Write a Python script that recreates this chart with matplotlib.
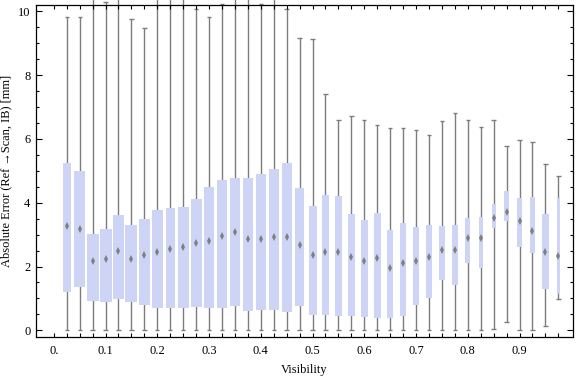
import numpy as np
import matplotlib.pyplot as plt

# visibility bins (box centres)
visibility = np.arange(1, 40) * 0.025

# box-whisker statistics [mm]
lows = [0, 0, 0, 0, 0, 0, 0, 0, 0, 0, 0, 0, 0, 0, 0, 0, 0, 0, 0, 0,
        0, 0, 0, 0, 0, 0, 0, 0, 0, 0, 0, 0, 0, 0.04, 0.27, 0, 0, 0.13, 0.97]
q1 = [1.21, 1.36, 0.92, 0.89, 0.99, 0.89, 0.80, 0.71, 0.71, 0.71,
      0.74, 0.71, 0.71, 0.76, 0.62, 0.65, 0.65, 0.58, 0.76, 0.49,
      0.49, 0.46, 0.46, 0.43, 0.38, 0.40, 0.46, 0.80, 1.02, 1.59,
      1.43, 2.12, 1.94, 3.22, 3.42, 2.62, 2.41, 1.31, 1.15]
medians = [3.28, 3.17, 2.18, 2.23, 2.49, 2.25, 2.35, 2.44, 2.54, 2.60,
           2.75, 2.81, 2.97, 3.07, 2.86, 2.86, 2.92, 2.92, 2.67, 2.36,
           2.46, 2.44, 2.30, 2.18, 2.28, 1.96, 2.11, 2.18, 2.31, 2.51,
           2.53, 2.90, 2.90, 3.53, 3.71, 3.42, 3.11, 2.44, 2.32]
q3 = [5.25, 4.99, 3.02, 3.18, 3.62, 3.30, 3.49, 3.77, 3.83, 3.87,
      4.12, 4.49, 4.71, 4.77, 4.77, 4.90, 5.06, 5.25, 4.46, 3.90,
      4.24, 4.21, 3.65, 3.46, 3.68, 3.14, 3.36, 3.24, 3.30, 3.27,
      3.30, 3.52, 3.54, 3.96, 4.37, 4.15, 4.18, 3.65, 4.15]
highs = [9.81, 9.81, 11, 10.31, 11, 9.75, 9.47, 11, 11, 11,
         10.09, 9.81, 10.22, 11, 11, 10.22, 11, 10.09, 9.18, 9.12,
         7.40, 6.58, 6.71, 6.58, 6.43, 6.33, 6.34, 6.27, 6.11, 6.55,
         6.80, 6.61, 6.36, 6.61, 5.77, 5.96, 5.89, 5.20, 4.83]

# box widths vary in the original (pixels at this size)
box_width_px = [7.3, 10, 11, 11, 10.7, 11, 10.7, 9.7, 8.3, 9.7,
                10, 8.7, 9.7, 9, 9, 9, 9, 9, 7.3, 7,
                6, 6, 6.3, 6, 6, 4.7, 4.3, 5, 5, 5,
                5, 4.3, 3.3, 3.3, 3.3, 3.3, 4, 5.7, 2.7]

x_labels = ['0.', '0.1', '0.2', '0.3', '0.4', '0.5', '0.6', '0.7', '0.8', '0.9']

plt.rcParams['font.family'] = ['Liberation Serif', 'DejaVu Serif']
plt.rcParams['font.size'] = 8.9

px_per_unit = 517.5
widths = np.array(box_width_px) / px_per_unit + 1.0 / px_per_unit

fig = plt.figure(figsize=(5.76, 3.77), dpi=100)
ax = fig.add_axes([36 / 576, 40 / 377, 537 / 576, 332.3 / 377])

box_color = '#cdd4f6'
gray = '#7d7d7d'
cap = 0.0042

wl = ax.vlines(visibility, lows, highs, color=gray, lw=1.0, zorder=1)
wl.set_clip_on(False)
c1 = ax.hlines(highs, visibility - cap, visibility + cap, color=gray, lw=1.0, zorder=1)
c1.set_clip_on(False)
ax.hlines(lows, visibility - cap, visibility + cap, color=gray, lw=1.0, zorder=1)

ax.bar(visibility, np.array(q3) - np.array(q1), bottom=q1, width=widths,
       color=box_color, edgecolor='none', zorder=2)
ax.plot(visibility, medians, linestyle='none', marker='d', markersize=4,
        color='#7f7f7f', markeredgewidth=0, zorder=3)

ax.set_xlim(-0.0344, 1.0033)
ax.set_ylim(-0.21, 10.21)

tick_pos = np.arange(0, 40) * 0.025
ax.set_xticks(tick_pos)
ax.set_xticklabels([x_labels[i // 4] if i % 4 == 0 else '' for i in range(40)])
ax.set_yticks([0, 2, 4, 6, 8, 10])
ax.set_yticks(np.arange(0, 10.01, 0.5), minor=True)
ax.tick_params(axis='x', direction='in', length=3, width=0.8, top=True, pad=6)
ax.tick_params(axis='y', which='major', direction='in', length=4.2, width=0.8, right=True, pad=4)
ax.tick_params(axis='y', which='minor', direction='in', length=2.4, width=0.8, right=True)
for s in ax.spines.values():
    s.set_linewidth(0.9)

ax.set_xlabel('Visibility', labelpad=5)
ax.set_ylabel('Absolute Error (Ref \u2192Scan, IB) [mm]', labelpad=4)

fig.savefig('out.png', dpi=100)
